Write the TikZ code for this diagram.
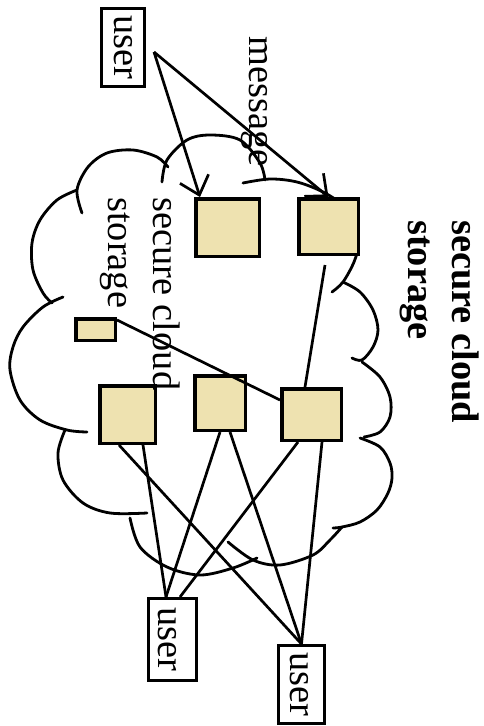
\documentclass[tikz,border=0pt]{standalone}
\usepackage{fontspec}
\setmainfont{Liberation Serif}
\usetikzlibrary{arrows.meta}
\definecolor{boxfill}{RGB}{238,226,176}
\begin{document}
\begin{tikzpicture}[x=1pt,y=-1pt,
  cloudline/.style={line width=2.8pt, line cap=round, smooth, tension=0.55},
  conn/.style={line width=2.7pt},
  arr/.style={conn, -{Straight Barb[length=17pt,width=30pt]}},
  sq/.style={draw, line width=3.5pt, fill=boxfill, inner sep=0pt},
  userbox/.style={draw, line width=2.6pt, rotate=-90, inner sep=0pt, text height=0pt, text depth=0pt, font=\fontsize{38.4}{45}\selectfont},
  lbl/.style={rotate=-90, anchor=base west, inner sep=0pt, font=\fontsize{38.4}{45}\selectfont},
  boldlbl/.style={lbl, font=\fontsize{38.4}{45}\selectfont\bfseries},
]
\useasboundingbox (0,0) rectangle (484,726);

% cloud outline
\draw[cloudline] plot coordinates {(82,213) (77,190) (88,167) (107,153) (133,150) (157,157) (168,167)};
\draw[cloudline] plot coordinates {(162,182) (167,160) (187,140) (210,135) (240,140) (260,163) (265,180)};
\draw[cloudline] plot coordinates {(243,183) (270,179) (297,182) (323,192) (342,205) (354,225) (358,245) (354,262) (343,282) (332,292)};
\draw[cloudline] plot coordinates {(343,282) (360,292) (373,310) (378,330) (373,347) (362,360) (352,358)};
\draw[cloudline] plot coordinates {(362,362) (380,377) (390,397) (390,417) (380,432) (364,437)};
\draw[cloudline] plot coordinates {(360,438) (380,447) (390,463) (392,478) (388,493) (377,510) (360,522) (342,527) (333,528)};
\draw[cloudline] plot coordinates {(342,527) (330,540) (313,555) (280,565) (253,560) (228,542)};
\draw[cloudline] plot coordinates {(130,518) (140,547) (167,567) (200,575) (233,568) (257,558)};
\draw[cloudline] plot coordinates {(65,430) (58,453) (63,480) (83,503) (110,513) (147,513)};
\draw[cloudline] plot coordinates {(63,297) (43,307) (23,327) (13,347) (10,370) (20,400) (40,420) (67,430) (87,432)};
\draw[cloudline] plot coordinates {(77,190) (57,200) (40,220) (32,243) (33,270) (43,293) (52,303)};

% storage blocks
\node[sq, minimum width=63.5pt, minimum height=57.5pt] (sqA) at (227.5,227.5) {};
\node[sq, minimum width=59.5pt, minimum height=55.5pt] (sqB) at (328.5,226.5) {};
\node[sq, minimum width=39.5pt, minimum height=21.5pt] (smallR) at (95.5,329.5) {};
\node[sq, minimum width=55.5pt, minimum height=57.5pt] (sqC) at (127.5,414.5) {};
\node[sq, minimum width=50.5pt, minimum height=54.5pt] (sqD) at (220,403) {};
\node[sq, minimum width=59.5pt, minimum height=51.5pt] (sqE) at (311.5,414.5) {};

% users
\node[userbox, minimum width=78.4pt, minimum height=43.4pt] (userT) at (123,47.5) {\raisebox{-9pt}{user}};
\node[userbox, minimum width=82.4pt, minimum height=48.4pt] (userL) at (172.5,639.5) {\raisebox{-14pt}{user}};
\node[userbox, minimum width=78.4pt, minimum height=46.4pt] (userR) at (301.5,684.5) {\raisebox{-11.5pt}{user}};

% connectors
\coordinate (src) at (154,52);
\draw[arr] (src) -- ([xshift=-27.5pt]sqA.north);
\draw[arr] (src) -- (sqB.north);
\draw[conn] ([yshift=9.5pt]smallR.east) -- ([yshift=14.5pt]sqE.west);
\draw[conn] ([xshift=-3.5pt,yshift=-9pt]sqB.south) -- ([xshift=-6.5pt]sqE.north);
\draw[conn] ([xshift=-8.5pt]sqC.south) -- (userR.west);
\draw[conn] ([xshift=15.5pt]sqC.south) -- ([xshift=-6.5pt]userL.west);
\draw[conn] (sqD.south) -- ([xshift=-6.5pt]userL.west);
\draw[conn] ([xshift=10pt]sqD.south) -- (userR.west);
\draw[conn] ([xshift=-13.5pt]sqE.south) -- ([xshift=7.5pt]userL.west);
\draw[conn] ([xshift=10.5pt]sqE.south) -- (userR.west);

% labels
\node[lbl] (msg) at (249,36) {message};
\node[lbl] (inner1) at (153,197) {secure cloud};
\node[lbl] (inner2) at (108,197) {storage};
\node[boldlbl] (title1) at (452,220) {secure cloud};
\node[boldlbl] (title2) at (408,220) {storage};
\end{tikzpicture}
\end{document}
